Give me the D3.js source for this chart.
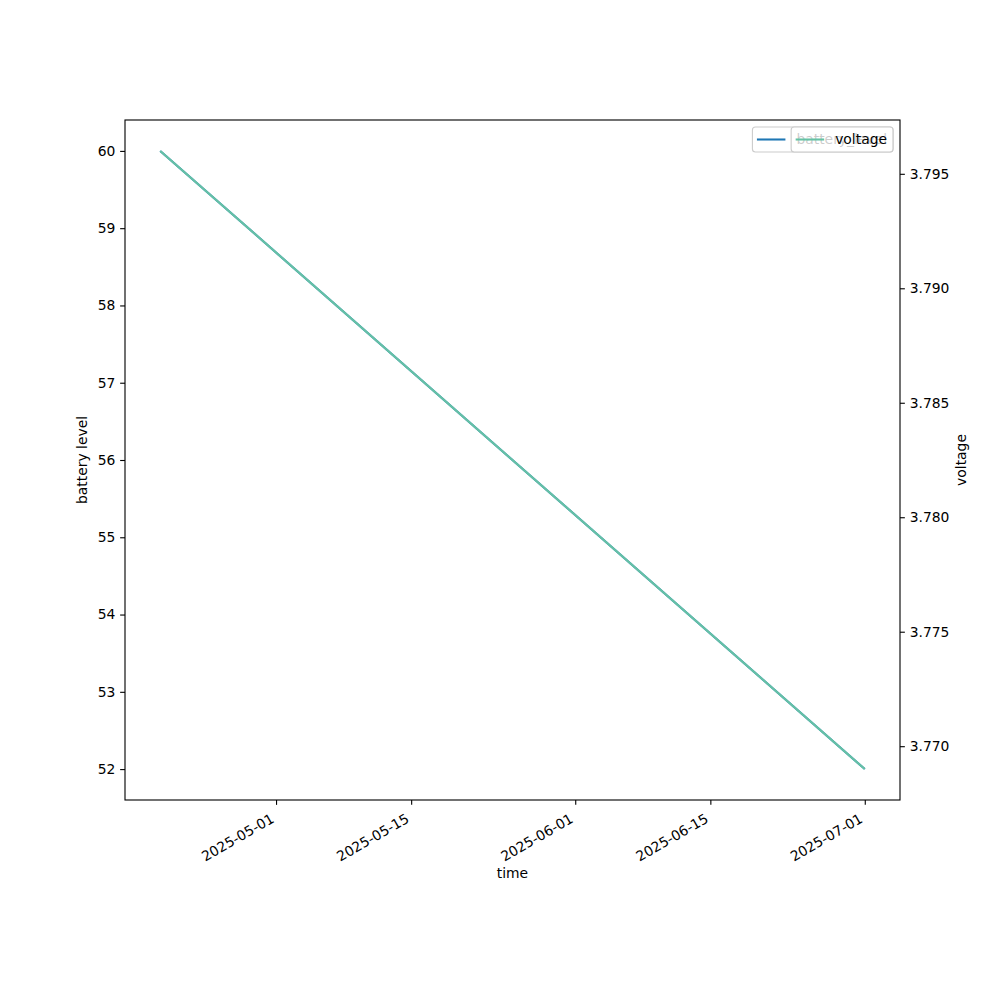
<!DOCTYPE html>
<html>
<head>
<meta charset="utf-8">
<script src="https://cdn.jsdelivr.net/npm/d3@7"></script>
<style>
  body { margin: 0; background: #fff; }
  svg { display: block; font-family: "DejaVu Sans", sans-serif; }
</style>
</head>
<body>
<svg id="chart" width="1000" height="1000"></svg>
<script>
// ---- data ----
const times = ["2025-04-19", "2025-07-01"];
const batteryLevel = [60, 52];
const voltage = [3.796, 3.769];
const xTickLabels = ["2025-05-01", "2025-05-15", "2025-06-01", "2025-06-15", "2025-07-01"];
const leftTicks = [52, 53, 54, 55, 56, 57, 58, 59, 60];
const rightTicks = [3.770, 3.775, 3.780, 3.785, 3.790, 3.795];
const seriesNames = ["battery_level", "voltage"];

// ---- layout ----
const L = 125, R = 900, T = 120, B = 800;
const FS = 13.89;
const tickLen = 4.86, tickPad = 4.86;
const blue = "#1f77b4", teal = "#66c2a5";

const parse = d3.timeParse("%Y-%m-%d");
const fmt = d3.timeFormat("%Y-%m-%d");
const dates = times.map(parse);

function padDomain(ext, frac) {
  const span = ext[1] - ext[0];
  return [ext[0] - span * frac, ext[1] + span * frac];
}
const xExt = d3.extent(dates).map(d => +d);
const xDom = padDomain(xExt, 0.05);
const x = d3.scaleTime().domain([new Date(xDom[0]), new Date(xDom[1])]).range([L, R]);
const yL = d3.scaleLinear().domain(padDomain(d3.extent(batteryLevel), 0.05)).range([B, T]);
const yR = d3.scaleLinear().domain(padDomain(d3.extent(voltage), 0.05)).range([B, T]);

const svg = d3.select("#chart");

// lines
const batData = dates.map((d, i) => ({ d, v: batteryLevel[i] }));
const voltData = dates.map((d, i) => ({ d, v: voltage[i] }));
svg.append("path").datum(batData)
  .attr("fill", "none").attr("stroke", blue).attr("stroke-width", 2.08)
  .attr("d", d3.line().x(p => x(p.d)).y(p => yL(p.v)));
svg.append("path").datum(voltData)
  .attr("fill", "none").attr("stroke", teal).attr("stroke-width", 2.08)
  .attr("d", d3.line().x(p => x(p.d)).y(p => yR(p.v)));

// axes
function styleAxis(g) {
  g.select(".domain").remove();
  g.selectAll(".tick line").attr("stroke", "#000").attr("stroke-width", 1.11);
  g.selectAll(".tick text").attr("fill", "#000").style("font-size", FS + "px")
    .style("font-family", "'DejaVu Sans', sans-serif");
}
const gx = svg.append("g").attr("transform", `translate(0,${B})`)
  .call(d3.axisBottom(x).tickValues(xTickLabels.map(parse)).tickFormat(fmt)
    .tickSize(tickLen).tickSizeOuter(0))
  .call(styleAxis);
gx.selectAll(".tick text")
  .attr("y", 0).attr("dy", 0).attr("x", 0)
  .attr("text-anchor", "end")
  .attr("transform", "translate(-1.5,21.5) rotate(-30)");

svg.append("g").attr("transform", `translate(${L},0)`)
  .call(d3.axisLeft(yL).tickValues(leftTicks).tickFormat(d3.format("d"))
    .tickSize(tickLen).tickPadding(tickPad).tickSizeOuter(0))
  .call(styleAxis);
svg.append("g").attr("transform", `translate(${R},0)`)
  .call(d3.axisRight(yR).tickValues(rightTicks).tickFormat(d3.format(".3f"))
    .tickSize(tickLen).tickPadding(tickPad).tickSizeOuter(0))
  .call(styleAxis);

// frame
svg.append("rect").attr("x", L).attr("y", T).attr("width", R - L).attr("height", B - T)
  .attr("fill", "none").attr("stroke", "#000").attr("stroke-width", 1.11);

// axis labels
svg.append("text").attr("x", (L + R) / 2).attr("y", 878).attr("text-anchor", "middle")
  .style("font-size", FS + "px").text("time");
svg.append("text").attr("transform", `translate(87,${(T + B) / 2}) rotate(-90)`)
  .attr("text-anchor", "middle").style("font-size", FS + "px").text("battery level");
svg.append("text").attr("transform", `translate(966,${(T + B) / 2}) rotate(-90)`)
  .attr("text-anchor", "middle").style("font-size", FS + "px").text("voltage");

// legends (two overlapping, upper right, as in the reference)
function legend(name, color) {
  const g = svg.append("g");
  const t = g.append("text").attr("y", 144).style("font-size", FS + "px")
    .attr("fill", "#000").text(name);
  const w = t.node().getComputedTextLength();
  const right = 893, top = 127, h = 25;
  const left = right - (w + 50);
  g.insert("rect", "text").attr("x", left).attr("y", top).attr("width", right - left).attr("height", h)
    .attr("rx", 3).attr("fill", "#fff").attr("fill-opacity", 0.8)
    .attr("stroke", "#cccccc").attr("stroke-width", 1.11);
  g.append("line").attr("x1", left + 4.5).attr("x2", left + 33).attr("y1", top + 12.5).attr("y2", top + 12.5)
    .attr("stroke", color).attr("stroke-width", 2.08);
  t.attr("x", left + 44);
}
legend(seriesNames[0], blue);
legend(seriesNames[1], teal);
</script>
</body>
</html>
